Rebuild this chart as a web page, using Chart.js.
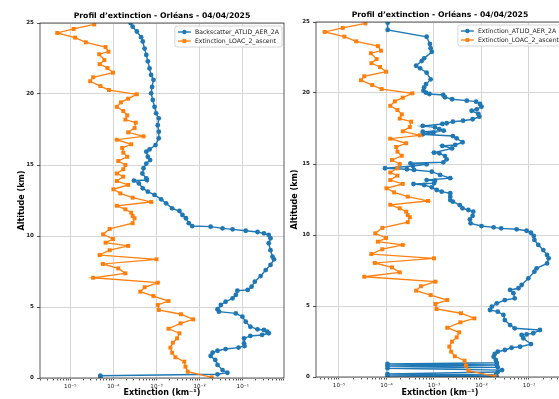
<!DOCTYPE html>
<html><head><meta charset="utf-8">
<script src="https://cdn.jsdelivr.net/npm/chart.js@4.4.0/dist/chart.umd.min.js"></script>
<style>
html,body{margin:0;padding:0;background:#fff;overflow:hidden;width:559px;height:399px;}
#c1{position:absolute;left:0;top:0;}
#c2{position:absolute;left:288px;top:0;}
</style></head><body>
<canvas id="c1" width="288" height="399"></canvas>
<canvas id="c2" width="300" height="399"></canvas>
<script>
// ---------- data ----------
const titleText = 'Profil d\u2019extinction - Orléans - 04/04/2025';
const xTitle = 'Extinction (km\u207B\u00B9)';
const yTitle = 'Altitude (km)';
const labelBack = 'Backscatter_ATLID_AER_2A';
const labelAtlid = 'Extinction_ATLID_AER_2A';
const labelLoac = 'Extinction_LOAC_2_ascent';

const majorTicks = [1e-5, 1e-4, 1e-3, 1e-2, 1e-1];
const tickLabels = ['10\u207B\u2075', '10\u207B\u2074', '10\u207B\u00B3', '10\u207B\u00B2', '10\u207B\u00B9'];
const yTicks = [0, 5, 10, 15, 20, 25];

const altLoac = [24.9,24.58,24.3,23.97,23.64,23.3,22.98,22.8,22.39,22.1,21.83,21.5,21.18,20.9,20.56,20.28,19.98,19.67,19.41,19.1,18.8,18.5,18.2,17.98,17.6,17.3,17.02,16.78,16.46,16.2,15.87,15.58,15.28,15.0,14.7,14.4,14.18,13.87,13.6,13.29,13.0,12.7,12.4,12.13,11.88,11.64,11.4,11.25,10.9,10.5,10.12,9.79,9.53,9.3,9.0,8.66,8.36,8.03,7.72,7.37,7.06,6.71,6.39,6.08,5.77,5.42,5.14,4.79,4.49,4.13,3.85,3.47,3.15,2.79,2.49,2.14,1.78,1.46,1.15,0.8,0.45,0.05];
const extLoac = [3.6e-5,1.2e-5,5e-6,1.3e-5,2.3e-5,6.6e-5,7.7e-5,4.7e-5,6.2e-5,4.8e-5,7.3e-5,9.8e-5,3.4e-5,2.9e-5,5e-5,7.9e-5,3.5e-4,2.2e-4,1.5e-4,1.2e-4,1.7e-4,2.1e-4,1.9e-4,3.3e-4,3.1e-4,2.2e-4,5e-4,1.2e-4,2.6e-4,1.6e-4,1.7e-4,2.1e-4,1.3e-4,1.9e-4,1.7e-4,1.2e-4,1.7e-4,1.2e-4,2.2e-4,1.0e-4,1.45e-4,2.8e-4,7.5e-4,1.2e-4,1.9e-4,2.6e-4,2.8e-4,3.1e-4,2.8e-4,8.2e-5,5.8e-5,9.8e-5,6.6e-5,2.2e-4,8.2e-5,4.8e-5,1e-3,5.7e-5,1.3e-4,1.9e-4,3.4e-5,1.07e-3,5.3e-4,4.2e-4,8.5e-4,1.9e-3,1.07e-3,1.13e-3,3.7e-3,7.1e-3,3.6e-3,1.9e-3,3.4e-3,3.0e-3,2.4e-3,2.1e-3,2.3e-3,2.75e-3,4.4e-3,4.7e-3,5.3e-3,1.9e-2];

const altBack = [25.0,24.74,24.4,24.0,23.7,23.2,22.75,22.3,21.8,21.34,21.0,20.5,20.05,19.58,19.1,18.64,18.29,17.8,17.35,16.88,16.4,16.1,15.94,15.58,15.35,15.1,14.77,14.4,14.06,13.94,13.9,13.7,13.36,13.12,12.89,12.58,12.3,11.95,11.76,11.48,11.25,10.9,10.7,10.66,10.54,10.47,10.37,10.28,10.19,10.07,9.84,9.49,9.0,8.54,8.36,7.96,7.6,7.18,6.78,6.43,6.2,6.15,5.85,5.61,5.37,5.14,4.84,4.67,4.55,4.32,3.96,3.61,3.43,3.38,3.26,3.15,3.03,2.96,2.79,2.44,2.25,2.14,2.04,1.92,1.78,1.55,1.27,0.92,0.56,0.37,0.26,0.16,0.08];
const extBack = [2.5e-4,2.8e-4,3.5e-4,4.4e-4,4.8e-4,5.3e-4,5.8e-4,6.3e-4,6.9e-4,7.5e-4,8.5e-4,7.9e-4,7.5e-4,8.2e-4,9e-4,9.8e-4,1.13e-3,1.07e-3,1.13e-3,1.13e-3,9.5e-4,6.9e-4,5.8e-4,6.3e-4,7.1e-4,5.8e-4,5e-4,4.7e-4,5.8e-4,6e-4,3e-4,3.9e-4,4.8e-4,6.3e-4,9e-4,1.28e-3,1.67e-3,2.3e-3,3.4e-3,4.0e-3,4.8e-3,5.6e-3,6.7e-3,1.8e-2,3.4e-2,5.8e-2,0.117,0.22,0.31,0.4,0.44,0.4,0.44,0.49,0.53,0.44,0.34,0.26,0.19,0.16,0.13,0.075,0.069,0.058,0.04,0.031,0.026,0.028,0.069,0.098,0.117,0.15,0.22,0.31,0.37,0.4,0.28,0.15,0.107,0.107,0.11,0.08,0.04,0.026,0.02,0.018,0.023,0.026,0.034,0.044,0.026,5e-5,5e-5];

const altAtlid = [24.95,24.44,23.96,23.45,23.15,22.9,22.44,22.25,21.92,21.74,21.43,20.96,20.63,20.4,20.16,20.02,19.93,19.86,19.7,19.56,19.46,19.39,19.23,19.04,18.85,18.75,18.52,18.33,18.15,18.05,17.98,17.87,17.82,17.68,17.58,17.45,17.35,17.27,17.2,17.09,16.97,16.81,16.53,16.34,16.27,16.1,15.8,15.75,15.56,15.33,15.12,15.05,14.98,14.86,14.7,14.63,14.58,14.46,14.23,14.0,13.87,13.82,13.64,13.59,13.52,13.36,13.17,13.05,12.94,12.7,12.46,12.35,12.1,11.88,11.76,11.64,11.34,11.1,10.82,10.63,10.54,10.47,10.4,10.3,10.16,9.93,9.65,9.3,8.94,8.59,8.36,8.0,7.65,7.42,6.95,6.48,6.25,6.13,5.9,5.54,5.42,5.19,4.95,4.72,4.6,4.37,4.01,3.66,3.43,3.31,3.08,3.0,2.96,2.73,2.32,2.13,2.06,1.9,1.78,1.62,1.43,1.2,1.0,0.92,0.85,0.77,0.68,0.61,0.49,0.35,0.21,0.14,0.07,0.02];
const extAtlid = [1.06e-4,1.06e-4,7e-4,8.2e-4,8.5e-4,9e-4,6.2e-4,5.5e-4,4.2e-4,5.1e-4,7e-4,8.5e-4,6.8e-4,6.2e-4,6e-4,6.8e-4,8e-4,1.57e-3,1.7e-3,2.4e-3,4.9e-3,7.7e-3,9.3e-3,1.0e-2,7.9e-3,6.2e-3,8.6e-3,9e-3,6.5e-3,4.1e-3,2.5e-3,1.85e-3,1.5e-3,5.8e-4,1.05e-3,1.3e-3,1.6e-3,5.8e-4,9.7e-4,5.8e-4,2.5e-3,3e-3,4e-3,2.8e-3,1.5e-3,2.4e-3,1e-3,1.3e-3,1.7e-3,1.85e-3,1.57e-3,3.2e-4,7e-4,3.6e-4,9.3e-5,2.7e-4,3.8e-4,9e-4,1.34e-3,2.2e-3,7e-4,1.05e-3,1e-3,3.7e-4,6.2e-4,9e-4,1.14e-3,1.45e-3,2.2e-3,2.2e-3,2.2e-3,2.5e-3,3.5e-3,4e-3,5.3e-3,6.7e-3,6.5e-3,5.7e-3,5.9e-3,1.0e-2,1.8e-2,2.6e-2,5.5e-2,8.9e-2,0.11,0.126,0.13,0.157,0.2,0.24,0.26,0.24,0.145,0.13,0.097,0.07,0.06,0.04,0.047,0.05,0.031,0.021,0.0165,0.0151,0.022,0.029,0.031,0.04,0.05,0.17,0.123,0.089,0.07,0.076,0.11,0.065,0.043,0.031,0.022,0.019,0.018,0.02,0.021,1.05e-4,0.021,1.05e-4,0.022,1.05e-4,0.027,0.022,1.05e-4,0.02,1.05e-4,0.021];

// ---------- styling ----------
const BLUE = '#1f77b4', ORANGE = '#ff7f0e', GRID = '#d6d6d6', FONT = '"DejaVu Sans", sans-serif';
Chart.defaults.font.family = FONT;

function pts(alt, ext) { return alt.map((a, i) => ({ x: ext[i], y: a })); }
function majorIndex(v) { return majorTicks.findIndex(m => Math.abs(m - v) / m < 1e-6); }
const allTicks = [];
for (let e = -7; e <= 0; e++) for (let k = 1; k <= 9; k++) allTicks.push(k * Math.pow(10, e));

const framePlugin = {
  id: 'frame',
  afterDatasetsDraw(chart) {
    const { ctx, chartArea: a } = chart;
    ctx.save(); ctx.strokeStyle = '#333'; ctx.lineWidth = 0.8;
    ctx.strokeRect(a.left, a.top, a.right - a.left, a.bottom - a.top);
    ctx.restore();
  }
};
const titlePlugin = {
  id: 'mplTitle',
  afterDraw(chart) {
    const { ctx, chartArea: a } = chart;
    ctx.save(); ctx.font = 'bold 7.7px ' + FONT; ctx.fillStyle = '#000';
    ctx.textAlign = 'center'; ctx.textBaseline = 'middle';
    ctx.fillText(titleText, (a.left + a.right) / 2, a.top - 6.5);
    ctx.restore();
  }
};
const legendPlugin = {
  id: 'mplLegend',
  afterDraw(chart) {
    const { ctx, chartArea: a } = chart;
    const ds = chart.data.datasets;
    ctx.save();
    ctx.font = '6.2px ' + FONT;
    const tw = Math.max(...ds.map(d => ctx.measureText(d.label).width));
    const handle = 13, gap = 4, px = 3, rowH = 9;
    const w = px + handle + gap + tw + px, h = rowH * ds.length + 3;
    const x = Math.min(a.right, 561) - 2 - w, y = a.top + 3;
    ctx.fillStyle = 'rgba(255,255,255,0.85)'; ctx.strokeStyle = '#cccccc'; ctx.lineWidth = 0.8;
    ctx.beginPath(); ctx.roundRect(x, y, w, h, 2); ctx.fill(); ctx.stroke();
    ds.forEach((d, i) => {
      const cy = y + 1.5 + rowH * i + rowH / 2;
      ctx.strokeStyle = d.borderColor; ctx.lineWidth = d.borderWidth;
      ctx.beginPath(); ctx.moveTo(x + px, cy); ctx.lineTo(x + px + handle, cy); ctx.stroke();
      ctx.fillStyle = d.backgroundColor;
      const mx = x + px + handle / 2;
      if (d.pointStyle === 'rect') { const s = 3.8; ctx.fillRect(mx - s / 2, cy - s / 2, s, s); }
      else { ctx.beginPath(); ctx.arc(mx, cy, 2.2, 0, Math.PI * 2); ctx.fill(); }
      ctx.fillStyle = '#222'; ctx.textAlign = 'left'; ctx.textBaseline = 'middle';
      ctx.fillText(d.label, x + px + handle + gap, cy + 0.3);
    });
    ctx.restore();
  }
};

function build(id, blueLabel, altB, extB, o) {
  return new Chart(document.getElementById(id), {
    type: 'scatter',
    data: {
      datasets: [
        { label: blueLabel, data: pts(altB, extB), showLine: true, borderColor: BLUE, backgroundColor: BLUE,
          borderWidth: 1.4, pointRadius: 2.4, pointStyle: 'circle', pointBorderWidth: 0, order: 1 },
        { label: labelLoac, data: pts(altLoac, extLoac), showLine: true, borderColor: ORANGE, backgroundColor: ORANGE,
          borderWidth: 1.3, pointRadius: 2.8, pointStyle: 'rect', pointBorderWidth: 0, order: 0 }
      ]
    },
    options: {
      responsive: false, animation: false, devicePixelRatio: 1,
      layout: { padding: { left: 0, right: o.padRight, top: o.top, bottom: 0 } },
      plugins: { legend: { display: false }, tooltip: { enabled: false }, title: { display: false } },
      scales: {
        x: {
          type: 'logarithmic', min: o.xmin, max: o.xmax, position: 'bottom',
          border: { display: false },
          grid: { color: c => (c.tick && majorIndex(c.tick.value) >= 0) ? GRID : 'rgba(0,0,0,0)',
                  tickColor: '#555', tickLength: 2.5, lineWidth: 1 },
          ticks: { autoSkip: false, maxRotation: 0, minRotation: 0, padding: 2.5, color: '#222',
                   font: { size: 5.6 }, callback: v => { const i = majorIndex(v); return i >= 0 ? tickLabels[i] : ''; } },
          afterBuildTicks: s => { s.ticks = allTicks.filter(v => v >= s.min && v <= s.max).map(v => ({ value: v })); },
          afterFit: s => { s.height = o.xh; },
          title: { display: true, text: xTitle, color: '#000', font: { size: 8, weight: 'bold' }, padding: { top: 0, bottom: 1.2 } }
        },
        y: {
          min: 0, max: 25, border: { display: false },
          grid: { color: GRID, tickColor: '#555', tickLength: 3, lineWidth: 1 },
          ticks: { stepSize: 5, padding: 3, color: '#222', font: { size: 5.6, weight: 'bold' } },
          afterBuildTicks: s => { s.ticks = yTicks.map(v => ({ value: v })); },
          afterFit: s => { s.width = o.yw; },
          title: { display: true, text: yTitle, color: '#000', font: { size: 8, weight: 'bold' }, padding: { top: o.ytp, bottom: 0 } }
        }
      }
    },
    plugins: [framePlugin, titlePlugin, legendPlugin]
  });
}

build('c1', labelBack, altBack, extBack, { xmin: 1.99e-6, xmax: 0.904, padRight: 3, top: 23, xh: 21, yw: 40, ytp: 17.2 });
build('c2', labelAtlid, altAtlid, extAtlid, { xmin: 3.28e-6, xmax: 0.546, padRight: 24, top: 22, xh: 22, yw: 28, ytp: 2.2 });
</script>
</body></html>
